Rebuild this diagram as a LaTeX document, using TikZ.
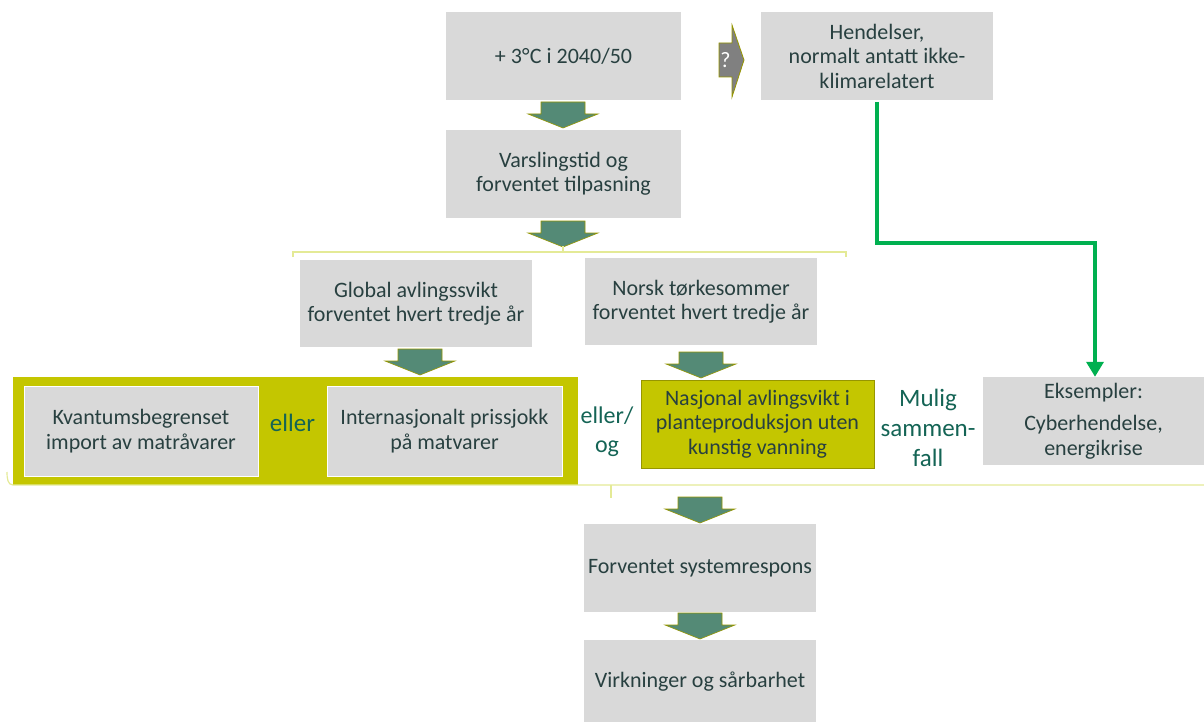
\documentclass[tikz,border=0pt]{standalone}
\usepackage{fontspec}
\setmainfont{Carlito}
\usetikzlibrary{arrows.meta}
\definecolor{boxgray}{RGB}{217,217,217}
\definecolor{txt}{RGB}{40,64,64}
\definecolor{tealtxt}{RGB}{20,100,85}
\definecolor{olivefill}{RGB}{196,198,0}
\definecolor{olivedark}{RGB}{150,150,0}
\definecolor{arrowfill}{RGB}{84,138,118}
\definecolor{bracecol}{RGB}{228,234,150}
\definecolor{linkgreen}{RGB}{0,176,80}
\definecolor{qgray}{RGB}{128,128,128}
\tikzset{
  graybox/.style={fill=boxgray, text=txt, align=center, inner sep=0pt,
    font=\fontsize{22}{24.5}\selectfont},
  olivebox/.style={fill=olivefill, draw=olivedark, line width=0.8pt, text=txt,
    align=center, inner sep=0pt, font=\fontsize{22}{24.5}\selectfont},
  innerbox/.style={graybox, draw=white, line width=1pt},
  word/.style={text=tealtxt, align=center, inner sep=0pt,
    font=\fontsize{22}{29}\selectfont},
  brace/.style={draw=bracecol, line width=1.2pt},
  darr/.pic={\filldraw[fill=arrowfill, draw=olivedark, line width=0.6pt]
    (-22,0) -- (22,0) -- (22,12) -- (35,12) -- (0,26) -- (-35,12) -- (-22,12) -- cycle;}
}
\begin{document}
\begin{tikzpicture}[x=1pt, y=-1pt]
\useasboundingbox (0,0) rectangle (1204,722);

% main chain of boxes
\node[graybox, minimum width=235, minimum height=88] (temp) at (563.5,56) {+ 3°\kern0.5pt C i 2040/50};
\node[graybox, minimum width=235, minimum height=88] (varsel) at (563.5,174) {Varslingstid og\\forventet tilpasning};
\node[graybox, minimum width=232, minimum height=88] (event) at (877,56) {Hendelser,\\normalt antatt ikke-\\klimarelatert};

\node[graybox, minimum width=232, minimum height=87] (global) at (416,303.5) {Global avlingssvikt\\forventet hvert tredje år};
\node[graybox, minimum width=232, minimum height=87] (norsk) at (701,301.5) {Norsk tørkesommer\\forventet hvert tredje år};

% olive frame holding the two import outcomes
\node[fill=olivefill, minimum width=565, minimum height=108, inner sep=0pt] (frame) at (295.5,431) {};
\node[innerbox, minimum width=234, minimum height=90] (import) at (141,431) {Kvantumsbegrenset\\import av matråvarer};
\node[innerbox, minimum width=235, minimum height=90] (pris) at (444.5,431) {Internasjonalt prissjokk\\på matvarer};
\node[word, font=\fontsize{25}{30}\selectfont] (eller) at (292.5,423) {eller};

\node[word, font=\fontsize{24}{29}\selectfont] (ellerog) at (607,432) {eller/\\og};
\node[olivebox, minimum width=233, minimum height=88] (nasjonal) at (757.5,424) {Nasjonal avlingsvikt i\\planteproduksjon uten\\kunstig vanning};
\node[word, font=\fontsize{25}{30}\selectfont] (mulig) at (928,428) {Mulig\\sammen-\\fall};
\node[graybox, minimum width=221, minimum height=88] (eks) at (1093.5,421) {Eksempler:\\[8pt]Cyberhendelse,\\energikrise};

\node[graybox, minimum width=232, minimum height=88] (respons) at (700,568) {Forventet systemrespons};
\node[graybox, minimum width=232, minimum height=84] (virk) at (700,682) {Virkninger og sårbarhet};

% block arrows between the stages
\pic at (563,102) {darr};
\pic at (563,221) {darr};
\pic at (420,349) {darr};
\pic at (701,352) {darr};
\pic at (700,497) {darr};
\pic at (700,613) {darr};

% question arrow pointing towards the non-climate events
\filldraw[fill=qgray, draw=olivedark, line width=0.8pt]
  (719,43) -- (732,43) -- (732,25) -- (744,60) -- (732,97) -- (732,77) -- (719,77) -- cycle;
\node[text=white, inner sep=0pt, font=\fontsize{22}{24}\selectfont] (q) at (725.5,60) {?};

% grouping braces
\draw[brace] (293,257) -- (293,252) -- (846,252) -- (846,257);
\draw[brace] (563,252) -- (563,246);
\draw[brace] (7,472) to[out=-90,in=180] (13,485) -- (1204,485);
\draw[brace] (611,485) -- (611,498);

% coincidence link from the events box to the examples
\draw[linkgreen, line width=3.5pt, -{Triangle[width=17pt,length=15pt]}]
  (877,102) -- (877,243) -- (1095,243) -- (eks.north -| 1095,0);
\end{tikzpicture}
\end{document}
